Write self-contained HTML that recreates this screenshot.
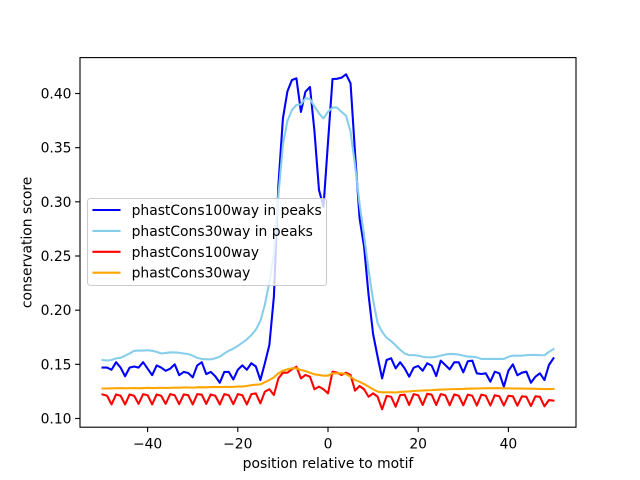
<!DOCTYPE html>
<html>
<head>
<meta charset="utf-8">
<style>
  html, body { margin: 0; padding: 0; background: #ffffff; }
  svg { display: block; }
  text { font-family: "DejaVu Sans", "Liberation Sans", sans-serif; font-size: 13.89px; fill: #000; }
</style>
</head>
<body>
<svg width="640" height="480" viewBox="0 0 640 480" xmlns="http://www.w3.org/2000/svg">
  <rect x="0" y="0" width="640" height="480" fill="#ffffff"/>
  <defs>
    <clipPath id="ax"><rect x="80" y="57.6" width="496" height="369.6"/></clipPath>
  </defs>

  <g clip-path="url(#ax)">
    <g transform="matrix(4.5091 0 0 -1083.3 328 526.83)" fill="none" stroke-linejoin="round" stroke-linecap="square">
      <polyline vector-effect="non-scaling-stroke" stroke="#0000ff" stroke-width="2.08" points="-50,0.147 -49,0.147 -48,0.145 -47,0.152 -46,0.147 -45,0.139 -44,0.147 -43,0.148 -42,0.147 -41,0.152 -40,0.146 -39,0.140 -38,0.149 -37,0.147 -36,0.144 -35,0.146 -34,0.150 -33,0.140 -32,0.143 -31,0.142 -30,0.138 -29,0.149 -28,0.152 -27,0.141 -26,0.143 -25,0.139 -24,0.133 -23,0.143 -22,0.143 -21,0.136 -20,0.145 -19,0.149 -18,0.145 -17,0.151 -16,0.148 -15,0.1355 -14,0.151 -13,0.168 -12,0.2125 -11,0.3155 -10,0.377 -9,0.402 -8,0.4125 -7,0.414 -6,0.383 -5,0.4017 -4,0.406 -3,0.365 -2,0.311 -1,0.2955 0,0.355 1,0.4134 2,0.4136 3,0.4146 4,0.4177 5,0.4094 6,0.345 7,0.285 8,0.2586 9,0.214 10,0.178 11,0.157 12,0.137 13,0.154 14,0.1556 15,0.1463 16,0.1519 17,0.1463 18,0.1386 19,0.1469 20,0.1485 21,0.1441 22,0.151 23,0.1488 24,0.1392 25,0.1534 26,0.1494 27,0.1454 28,0.1519 29,0.1519 30,0.1426 31,0.1528 32,0.1534 33,0.1417 34,0.1411 35,0.1417 36,0.134 37,0.1432 38,0.1417 39,0.1294 40,0.1441 41,0.150 42,0.1399 43,0.1423 44,0.1432 45,0.133 46,0.1386 47,0.1417 48,0.1355 49,0.1494 50,0.1556"/>
      <polyline vector-effect="non-scaling-stroke" stroke="#87ceeb" stroke-width="2.08" points="-50,0.154 -49,0.1535 -48,0.154 -47,0.1555 -46,0.156 -45,0.158 -44,0.160 -43,0.1625 -42,0.1627 -41,0.1627 -40,0.163 -39,0.1625 -38,0.1615 -37,0.160 -36,0.1605 -35,0.161 -34,0.161 -33,0.1607 -32,0.160 -31,0.1595 -30,0.158 -29,0.156 -28,0.155 -27,0.1546 -26,0.1546 -25,0.1556 -24,0.157 -23,0.160 -22,0.1625 -21,0.1645 -20,0.167 -19,0.170 -18,0.173 -17,0.177 -16,0.182 -15,0.190 -14,0.205 -13,0.226 -12,0.252 -11,0.306 -10,0.3525 -9,0.3746 -8,0.3848 -7,0.3894 -6,0.390 -5,0.3956 -4,0.395 -3,0.388 -2,0.3817 -1,0.377 0,0.3832 1,0.387 2,0.387 3,0.383 4,0.3795 5,0.3648 6,0.334 7,0.298 8,0.269 9,0.237 10,0.2094 11,0.188 12,0.180 13,0.1745 14,0.1715 15,0.1675 16,0.1635 17,0.160 18,0.1585 19,0.1585 20,0.158 21,0.157 22,0.1565 23,0.1565 24,0.157 25,0.158 26,0.159 27,0.1596 28,0.1595 29,0.159 30,0.158 31,0.1572 32,0.157 33,0.1565 34,0.155 35,0.155 36,0.155 37,0.155 38,0.155 39,0.155 40,0.157 41,0.158 42,0.158 43,0.158 44,0.1585 45,0.1587 46,0.1587 47,0.1585 48,0.1584 49,0.1615 50,0.164"/>
      <polyline vector-effect="non-scaling-stroke" stroke="#ff0000" stroke-width="2.08" points="-50,0.1222 -49,0.121 -48,0.113 -47,0.1222 -46,0.121 -45,0.113 -44,0.1222 -43,0.121 -42,0.1135 -41,0.1225 -40,0.1215 -39,0.113 -38,0.1222 -37,0.121 -36,0.1135 -35,0.1225 -34,0.1215 -33,0.1132 -32,0.1222 -31,0.1215 -30,0.113 -29,0.1225 -28,0.122 -27,0.1135 -26,0.1222 -25,0.121 -24,0.113 -23,0.1225 -22,0.1215 -21,0.1132 -20,0.1225 -19,0.1215 -18,0.113 -17,0.1225 -16,0.1232 -15,0.114 -14,0.1248 -13,0.127 -12,0.1217 -11,0.137 -10,0.1423 -9,0.1423 -8,0.1454 -7,0.1478 -6,0.137 -5,0.1402 -4,0.1386 -3,0.127 -2,0.1294 -1,0.127 0,0.1232 1,0.1432 2,0.1423 3,0.1402 4,0.1423 5,0.1402 6,0.1257 7,0.130 8,0.127 9,0.1201 10,0.1232 11,0.1201 12,0.1085 13,0.1208 14,0.1201 15,0.1109 16,0.1217 17,0.122 18,0.1125 19,0.1225 20,0.1215 21,0.1125 22,0.1228 23,0.122 24,0.1125 25,0.1225 26,0.1215 27,0.1122 28,0.1222 29,0.121 30,0.1122 31,0.122 32,0.121 33,0.112 34,0.122 35,0.121 36,0.112 37,0.1215 38,0.1205 39,0.112 40,0.121 41,0.1205 42,0.1118 43,0.1205 44,0.12 45,0.1115 46,0.1205 47,0.12 48,0.1112 49,0.117 50,0.1165"/>
      <polyline vector-effect="non-scaling-stroke" stroke="#ffa500" stroke-width="2.08" points="-50,0.1277 -49,0.1277 -48,0.1279 -47,0.1279 -46,0.1281 -45,0.1279 -44,0.128 -43,0.1281 -42,0.1279 -41,0.1281 -40,0.1283 -39,0.1281 -38,0.1282 -37,0.1284 -36,0.1282 -35,0.1283 -34,0.1285 -33,0.1284 -32,0.1287 -31,0.1286 -30,0.1285 -29,0.1288 -28,0.1289 -27,0.1288 -26,0.129 -25,0.1291 -24,0.129 -23,0.1292 -22,0.1291 -21,0.1292 -20,0.1295 -19,0.1296 -18,0.13 -17,0.1308 -16,0.1312 -15,0.1315 -14,0.1335 -13,0.1355 -12,0.138 -11,0.1417 -10,0.1441 -9,0.1454 -8,0.1463 -7,0.1463 -6,0.1448 -5,0.1438 -4,0.1423 -3,0.1408 -2,0.1402 -1,0.1395 0,0.1395 1,0.1417 2,0.1417 3,0.1417 4,0.1411 5,0.1386 6,0.1355 7,0.134 8,0.1318 9,0.1294 10,0.127 11,0.1248 12,0.1242 13,0.1242 14,0.1242 15,0.124 16,0.1245 17,0.1248 18,0.125 19,0.1254 20,0.1256 21,0.1258 22,0.126 23,0.1262 24,0.1265 25,0.1267 26,0.1268 27,0.127 28,0.1271 29,0.1272 30,0.1273 31,0.1275 32,0.1276 33,0.1277 34,0.1278 35,0.1279 36,0.128 37,0.128 38,0.128 39,0.1279 40,0.1278 41,0.1277 42,0.1277 43,0.1276 44,0.1275 45,0.1275 46,0.1274 47,0.1273 48,0.1272 49,0.1272 50,0.1273"/>
    </g>
  </g>

  <!-- axes frame -->
  <rect x="80" y="57.6" width="496" height="369.6" fill="none" stroke="#000" stroke-width="1.1"/>

  <!-- y ticks -->
  <g stroke="#000" stroke-width="1.1">
    <line x1="75.1" y1="418.5" x2="80" y2="418.5"/>
    <line x1="75.1" y1="364.3" x2="80" y2="364.3"/>
    <line x1="75.1" y1="310.2" x2="80" y2="310.2"/>
    <line x1="75.1" y1="256.0" x2="80" y2="256.0"/>
    <line x1="75.1" y1="201.8" x2="80" y2="201.8"/>
    <line x1="75.1" y1="147.7" x2="80" y2="147.7"/>
    <line x1="75.1" y1="93.5" x2="80" y2="93.5"/>
  </g>
  <g text-anchor="end">
    <text x="71.5" y="423.5">0.10</text>
    <text x="71.5" y="369.3">0.15</text>
    <text x="71.5" y="315.2">0.20</text>
    <text x="71.5" y="261.0">0.25</text>
    <text x="71.5" y="206.8">0.30</text>
    <text x="71.5" y="152.7">0.35</text>
    <text x="71.5" y="98.5">0.40</text>
  </g>

  <!-- x ticks -->
  <g stroke="#000" stroke-width="1.1">
    <line x1="147.6" y1="427.2" x2="147.6" y2="432.1"/>
    <line x1="237.8" y1="427.2" x2="237.8" y2="432.1"/>
    <line x1="328" y1="427.2" x2="328" y2="432.1"/>
    <line x1="418.2" y1="427.2" x2="418.2" y2="432.1"/>
    <line x1="508.4" y1="427.2" x2="508.4" y2="432.1"/>
  </g>
  <g text-anchor="middle">
    <text x="147.6" y="448.5">−40</text>
    <text x="237.8" y="448.5">−20</text>
    <text x="328" y="448.5">0</text>
    <text x="418.2" y="448.5">20</text>
    <text x="508.4" y="448.5">40</text>
  </g>

  <!-- axis labels -->
  <text x="328" y="468" text-anchor="middle">position relative to motif</text>
  <text transform="translate(31.5,242.4) rotate(-90)" text-anchor="middle">conservation score</text>

  <!-- legend -->
  <rect x="87.5" y="198.5" width="239" height="87" rx="3" ry="3" fill="#ffffff" fill-opacity="0.8" stroke="#cccccc" stroke-width="1.1"/>
  <g stroke-width="2.08" stroke-linecap="square">
    <line x1="93.5" y1="210" x2="119.5" y2="210" stroke="#0000ff"/>
    <line x1="93.5" y1="230.9" x2="119.5" y2="230.9" stroke="#87ceeb"/>
    <line x1="93.5" y1="251.8" x2="119.5" y2="251.8" stroke="#ff0000"/>
    <line x1="93.5" y1="272.7" x2="119.5" y2="272.7" stroke="#ffa500"/>
  </g>
  <text x="131.6" y="215">phastCons100way in peaks</text>
  <text x="131.6" y="235.9">phastCons30way in peaks</text>
  <text x="131.6" y="256.8">phastCons100way</text>
  <text x="131.6" y="277.7">phastCons30way</text>
</svg>
</body>
</html>
